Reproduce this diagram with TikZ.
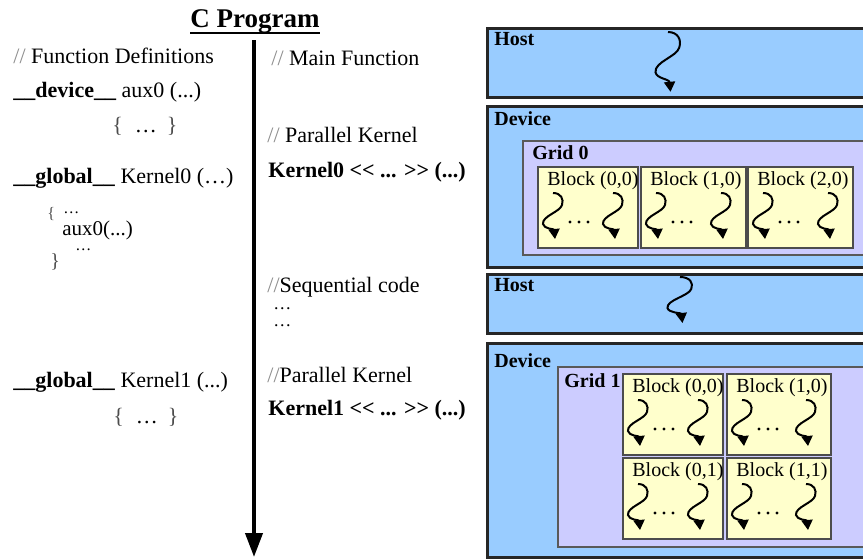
\documentclass[tikz,border=0pt]{standalone}
\usepackage{fontspec}
\setmainfont{Liberation Serif}
\usepackage{xcolor}
\usetikzlibrary{arrows.meta}

\definecolor{hostblue}{HTML}{99CCFF}
\definecolor{gridlilac}{HTML}{CCCCFF}
\definecolor{blockcream}{HTML}{FFFFCC}

\newcommand{\cmt}[1]{\textcolor{black!45}{#1}}
\newcommand{\brc}[1]{\textcolor{black!70}{#1}}
\newcommand{\lchev}{<\kern0pt<}
\newcommand{\rchev}{>\kern0pt>}

\tikzset{
  code/.style={anchor=base west, inner sep=0pt, font=\fontsize{11}{13}\selectfont},
  boldcode/.style={code, font=\bfseries\fontsize{11}{13}\selectfont},
  tinycode/.style={code, font=\fontsize{8}{9}\selectfont},
  unitbox/.style={draw=black!85, line width=1.5pt, fill=hostblue},
  gridbox/.style={draw=black!65, line width=.7pt, fill=gridlilac},
  blockbox/.style={draw=black!70, line width=.7pt, fill=blockcream},
  boxlabel/.style={anchor=base west, inner sep=0pt, font=\bfseries\fontsize{10}{12}\selectfont},
  blocklabel/.style={anchor=base west, inner sep=0pt, font=\fontsize{10}{12}\selectfont},
  thread/.pic={
    \draw[line width=1pt, -{Triangle[length=5pt,width=5.5pt]}]
      (0,0) .. controls (8,0) and (11,6) .. (9,12)
      .. controls (7,19) and (-11,23) .. (-10,31)
      .. controls (-9,36) and (1,36) .. (2,46);
  }
}

% one block of threads, local coordinates from its top left corner
\newcommand{\threadblock}[5]{%
  \begin{scope}[shift={(#2,#3)}]
    \draw[blockbox] (0,0) rectangle (#4,81);
    \node[blocklabel] (#1) at (9,18) {Block #5};
    \pic at (15,26) {thread};
    \pic at (#4-25,26) {thread};
    \foreach \d in {-9,0,9}
      \fill (41+\d,55) circle (.8pt);
  \end{scope}}

\begin{document}
\begin{tikzpicture}[x=.5pt,y=-.5pt]
  \useasboundingbox (0,0) rectangle (863,559);
  \clip (0,0) rectangle (863,559);

  \node[code, font=\bfseries\fontsize{13.5}{16}\selectfont] (title) at (190,27) {C Program};
  \draw[line width=.9pt] (title.south west) -- (title.south east);

  \coordinate (start) at (254,40);
  \coordinate (end) at (254,557);
  \draw[line width=2pt, -{Triangle[length=12pt,width=8.5pt]}] (start) -- (end);

  % function definitions
  \node[code] (defs) at (13,63) {\cmt{//} Function Definitions};
  \node[code] (devfn) at (13,97) {\textbf{\_\_device\_\_} aux0 (...)};
  \node[code] (devbody) at (112,132) {\brc{\{}\hspace{6pt}\ldots\hspace{5pt}\brc{\}}};

  \node[code] (kern0) at (13,183) {\textbf{\_\_global\_\_} Kernel0 (\ldots)};
  \node[tinycode] (open0) at (47,218) {\brc{\{}};
  \node[tinycode] (dotsa) at (63,213) {\ldots};
  \node[code, font=\fontsize{10.5}{12}\selectfont] (call0) at (62,235) {aux0(...)};
  \node[tinycode] (dotsb) at (75,250) {\ldots};
  \node[tinycode, font=\fontsize{10}{12}\selectfont] (close0) at (50,267) {\brc{\}}};

  \node[code] (kern1) at (13,387) {\textbf{\_\_global\_\_} Kernel1 (...)};
  \node[code] (k1body) at (113,423) {\brc{\{}\hspace{6pt}\ldots\hspace{5pt}\brc{\}}};

  % main function
  \node[code] (mainfn) at (271,65) {\cmt{//} Main Function};
  \node[code] (par0) at (267,142) {\cmt{//} Parallel Kernel};
  \node[boldcode] (launch0) at (268,177) {Kernel0 \lchev\ ... \rchev\ (...)};
  \node[code] (seq) at (267,292) {\cmt{//}Sequential code};
  \node[tinycode, font=\fontsize{9}{10}\selectfont] (seqa) at (273,309) {\ldots};
  \node[tinycode, font=\fontsize{9}{10}\selectfont] (seqb) at (273,326) {\ldots};
  \node[code] (par1) at (267,382) {\cmt{//}Parallel Kernel};
  \node[boldcode] (launch1) at (268,415) {Kernel1 \lchev\ ... \rchev\ (...)};

  % host and device
  \draw[unitbox] (487,28) rectangle (880,97);
  \node[boxlabel] (host0) at (494,45) {Host};
  \pic[xscale=1.25, yscale=1.3] at (668,32) {thread};

  \draw[unitbox] (487,106) rectangle (880,267);
  \node[boxlabel] (dev0) at (494,125) {Device};
  \draw[gridbox] (523,141) rectangle (880,255);
  \node[boxlabel] (grid0) at (532,159) {Grid 0};
  \threadblock{g0b0}{538}{167}{100}{(0,0)}
  \threadblock{g0b1}{641}{167}{105}{(1,0)}
  \threadblock{g0b2}{748}{167}{105}{(2,0)}

  \draw[unitbox] (487,274) rectangle (880,333);
  \node[boxlabel] (host1) at (494,291) {Host};
  \pic[xscale=1.25] at (680,277) {thread};

  \draw[unitbox] (487,343) rectangle (880,557);
  \node[boxlabel] (dev1) at (494,367) {Device};
  \draw[gridbox] (558,367) rectangle (880,547);
  \node[boxlabel] (grid1) at (564,387) {Grid 1};
  \threadblock{g1b00}{623}{374}{100}{(0,0)}
  \threadblock{g1b10}{727}{374}{104}{(1,0)}
  \threadblock{g1b01}{623}{458}{100}{(0,1)}
  \threadblock{g1b11}{727}{458}{104}{(1,1)}

\end{tikzpicture}
\end{document}
